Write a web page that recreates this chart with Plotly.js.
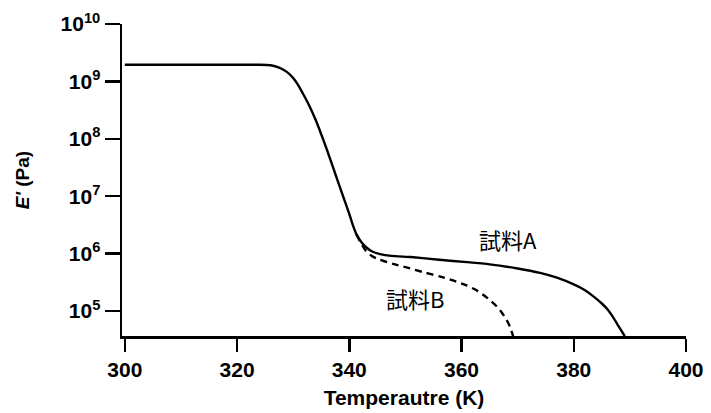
<!DOCTYPE html>
<html>
<head>
<meta charset="utf-8">
<script src="https://cdn.plot.ly/plotly-3.0.1.min.js"></script>
<style>html,body{margin:0;padding:0;background:#fff;}#chart{width:711px;height:413px;}</style>
</head>
<body>
<div id="chart"></div>
<script>
// Sample A (solid)
const tempA = [300, 310, 320, 324, 326, 327.5, 328.8, 330, 331, 332, 333, 334, 335, 336, 337, 338, 339, 340, 340.7, 341.3, 342, 343, 344, 345.5, 347.5, 351, 356, 361, 365, 370, 374, 377, 380, 382, 383.5, 385, 386, 387, 387.8, 388.5, 389.1];
const modA  = [1.95e9, 1.95e9, 1.95e9, 1.95e9, 1.91e9, 1.74e9, 1.48e9, 1.15e9, 8.3e8, 5.5e8, 3.55e8, 2.14e8, 1.2e8, 6.5e7, 3.4e7, 1.78e7, 9.3e6, 4.9e6, 3.0e6, 2.14e6, 1.66e6, 1.29e6, 1.1e6, 9.8e5, 9.1e5, 8.7e5, 7.8e5, 7.1e5, 6.5e5, 5.5e5, 4.6e5, 3.8e5, 2.9e5, 2.3e5, 1.8e5, 1.35e5, 1.07e5, 7.8e4, 5.8e4, 4.5e4, 3.63e4];
// Sample B (dashed)
const tempB = [341.3, 342, 343, 344, 345, 347.8, 350.2, 353, 356.1, 358.5, 360.9, 362.5, 363.9, 365.2, 366.3, 367.2, 368, 368.6, 369.2];
const modB  = [2.14e6, 1.58e6, 1.1e6, 9.1e5, 8.1e5, 6.6e5, 5.75e5, 4.8e5, 4.0e5, 3.4e5, 2.8e5, 2.34e5, 1.9e5, 1.51e5, 1.2e5, 9.3e4, 7.1e4, 5.4e4, 3.63e4];

const xTicks = [300, 320, 340, 360, 380, 400];
const yTicks = [1e5, 1e6, 1e7, 1e8, 1e9, 1e10];
const yTickText = ['10<sup>5</sup>', '10<sup>6</sup>', '10<sup>7</sup>', '10<sup>8</sup>', '10<sup>9</sup>', '10<sup>10</sup>'];

const labelNames = ['試料A', '試料B'];
const labelX = [368.3, 351.7];
const labelY = [6.26, 5.23]; // log10 positions

const traces = [
  {x: tempA, y: modA, mode: 'lines', line: {color: '#000', width: 2.4, shape: 'spline', smoothing: 0.5}, hoverinfo: 'skip'},
  {x: tempB, y: modB, mode: 'lines', line: {color: '#000', width: 2.4, dash: '7px,5px', shape: 'spline', smoothing: 0.5}, hoverinfo: 'skip'}
];

const fontMain = {family: 'Liberation Sans, Arial, sans-serif', color: '#000', size: 21, weight: 'bold'};

const layout = {
  width: 711, height: 413,
  margin: {l: 122, r: 25, t: 24, b: 77},
  paper_bgcolor: '#fff', plot_bgcolor: '#fff',
  showlegend: false,
  xaxis: {
    range: [299.5, 400], tickmode: 'array', tickvals: xTicks,
    ticks: 'outside', ticklen: 13, tickwidth: 2.5, tickcolor: '#000',
    showline: true, linecolor: '#000', linewidth: 2.5,
    showgrid: false, zeroline: false,
    tickfont: fontMain,
    title: {text: 'Temperautre (K)', font: fontMain, standoff: 11}
  },
  yaxis: {
    type: 'log', range: [4.564, 10], tickmode: 'array', tickvals: yTicks, ticktext: yTickText,
    ticks: 'outside', ticklen: 15, tickwidth: 2.5, tickcolor: '#000',
    showline: true, linecolor: '#000', linewidth: 2.5,
    showgrid: false, zeroline: false,
    tickfont: fontMain,
    title: {text: '<i>E\'</i> (Pa)', font: {family: 'Liberation Sans, Arial, sans-serif', color: '#000', size: 19, weight: 'bold'}, standoff: 26}
  },
  annotations: labelNames.map((t, i) => ({
    x: labelX[i], y: labelY[i], xref: 'x', yref: 'y', text: t, showarrow: false,
    font: {family: 'Noto Sans CJK JP, sans-serif', size: 22, color: '#000'}
  }))
};

Plotly.newPlot('chart', traces, layout, {staticPlot: true, displayModeBar: false});
</script>
</body>
</html>
